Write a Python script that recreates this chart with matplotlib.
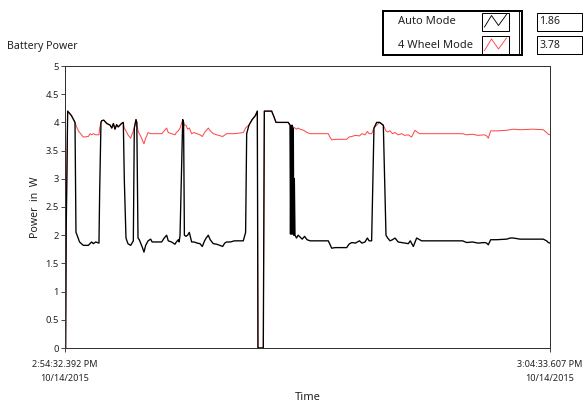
import matplotlib
matplotlib.use('Agg')
from matplotlib import pyplot as plt
from matplotlib.patches import Rectangle

plt.rcParams['font.family'] = ['Noto Sans', 'DejaVu Sans']
plt.rcParams['font.size'] = 9.5

# time in seconds since 2:54:32.392 PM
t_end = 601.215
x_tick_labels = ['2:54:32.392 PM\n10/14/2015', '3:04:33.607 PM\n10/14/2015']
y_ticks = [0, 0.5, 1, 1.5, 2, 2.5, 3, 3.5, 4, 4.5, 5]

# Auto Mode (black)
auto_t = [0.0, 0.8, 1.5, 3.3, 8, 12.4, 13.6, 14.5, 18, 22.7, 28.9, 31, 33, 35.1, 38, 42.1,
          43, 44.6, 45.5, 48, 52, 56, 58, 60, 62.0, 64, 66, 70, 72.3, 73.5, 75.6, 78, 81.4,
          84.7, 85.9, 88.0, 89, 90.5, 92.1, 94, 96, 97.9, 100, 103, 106.2, 108, 119.8, 123,
          126.0, 128, 132, 136.4, 138, 140.5, 141.5, 142.6, 145.9, 147, 148.0, 150.0, 152,
          154.1, 157.0, 160, 164, 167.3, 170.2, 173, 175, 177.6, 180, 183.8, 188, 192, 195.4,
          198, 200.4, 205, 210, 215, 221.0, 223.9, 225.2, 228, 232, 236, 238.4, 239.2, 245.8,
          247.1, 256.2, 259, 261.6, 270, 276.8, 278.9, 279.5, 280.2, 280.9, 281.6, 282.3,
          283.0, 283.6, 284.3, 285.1, 287, 289, 291.3, 294, 297, 300, 304, 307.8, 326.4, 328,
          330.6, 335, 349.2, 352, 355.4, 360, 365, 368, 371.9, 374.8, 377, 380.1, 383.0,
          386.3, 390, 394.6, 397.9, 400, 402.9, 406, 409.1, 413, 417.3, 421, 425.6, 428,
          431.8, 435.9, 442.1, 492.9, 497.9, 505, 512, 520, 522.7, 524.7, 527.7, 535, 547.5,
          552, 555.7, 564.0, 580, 592.9, 597, 599.1, 601.2]
auto_w = [0.0, 0.0, 2.1, 4.2, 4.12, 4.0, 2.05, 2.02, 1.88, 1.82, 1.82, 1.85, 1.88, 1.85, 1.88, 1.86,
          2.8, 4.0, 4.03, 4.04, 3.98, 3.95, 3.9, 3.98, 3.88, 3.96, 3.92, 3.98, 4.0, 3.0, 1.95, 1.85, 1.82,
          1.9, 3.9, 4.05, 4.0, 1.95, 1.92, 1.85, 1.78, 1.7, 1.82, 1.9, 1.93, 1.88, 1.88, 1.95,
          2.0, 1.9, 1.88, 1.84, 1.88, 1.92, 1.88, 2.0, 4.05, 4.0, 2.0, 1.98, 2.0,
          2.05, 1.88, 1.88, 1.86, 1.85, 1.8, 1.9, 1.95, 2.0, 1.92, 1.85, 1.84, 1.82, 1.8,
          1.86, 1.88, 1.88, 1.9, 1.9, 1.9, 2.05, 3.8, 3.95, 4.05, 4.12, 4.2, 0.0, 0.0,
          4.2, 4.2, 4.1, 4.0, 4.0, 4.0, 3.95, 2.02, 3.95, 2.02, 3.95, 2.02,
          3.9, 2.0, 3.0, 2.0, 1.95, 2.0, 1.97, 1.93, 1.98, 1.92, 1.9, 1.9, 1.9, 1.85,
          1.77, 1.78, 1.78, 1.84, 1.87, 1.86, 1.9, 1.86, 1.88, 1.95, 1.9, 1.9, 3.9,
          4.0, 4.0, 3.95, 2.0, 1.95, 1.9, 1.92, 1.95, 1.88, 1.87, 1.86, 1.85, 1.9,
          1.8, 1.95, 1.9, 1.9, 1.87, 1.88, 1.86, 1.87, 1.86, 1.83, 1.92, 1.92, 1.93,
          1.95, 1.95, 1.93, 1.93, 1.93, 1.9, 1.87, 1.86]

# 4 Wheel Mode (red)
wheel_t = [0.0, 0.8, 1.5, 3.3, 8, 12.4, 15, 17, 22.7, 28.9, 31, 33, 35.1, 38, 42.1, 43, 44.6,
           45.5, 48, 52, 56, 58, 60, 62.0, 64, 66, 70, 72.3, 73.5, 75.6, 78, 81.4, 84.7, 85.9,
           88.0, 89, 90.5, 92.1, 94, 97.9, 100, 103, 106.2, 119.8, 123, 126.0, 128, 132, 136.4,
           138, 140.5, 142.6, 145.9, 147, 148.0, 150.0, 152, 154.1, 157.0, 160, 167.3, 170.2,
           173, 177.6, 180, 183.8, 188, 195.4, 200.4, 210, 221.0, 223.9, 225.2, 228, 232, 236,
           238.4, 239.2, 245.8, 247.1, 256.2, 259, 261.6, 270, 276.8, 278.9, 285.1, 287, 289,
           291.3, 294, 297, 300, 304, 307.8, 326.4, 328, 330.6, 335, 349.2, 352, 355.4, 360,
           365, 368, 371.9, 374.8, 377, 380.1, 383, 386.3, 390, 394.6, 397.9, 400, 402.9, 406,
           409.1, 413, 417.3, 421, 425.6, 429.7, 433.8, 439.2, 492.9, 497.9, 505, 512, 520,
           522.7, 524.7, 527.7, 535, 547.5, 555.7, 564, 580, 592.9, 597, 599.1, 601.2]
wheel_w = [0.0, 0.0, 2.1, 4.2, 4.12, 4.0, 3.9, 3.84, 3.74, 3.75, 3.8, 3.78, 3.8, 3.78, 3.78, 3.9, 4.0,
           4.03, 4.04, 3.98, 3.95, 3.9, 3.98, 3.88, 3.96, 3.92, 3.98, 4.0, 3.9, 3.85, 3.78, 3.72, 3.85, 3.9,
           4.05, 4.0, 3.85, 3.8, 3.75, 3.62, 3.72, 3.82, 3.8, 3.8, 3.85, 3.9, 3.82, 3.8, 3.78,
           3.82, 3.85, 3.9, 4.05, 4.0, 3.95, 3.95, 3.88, 3.9, 3.8, 3.82, 3.78, 3.75,
           3.82, 3.9, 3.85, 3.8, 3.78, 3.75, 3.8, 3.8, 3.82, 3.9, 3.92, 3.95, 4.05, 4.12,
           4.2, 0.0, 0.0, 4.2, 4.2, 4.1, 4.0, 4.0, 4.0, 3.95, 3.9, 3.88, 3.9,
           3.88, 3.87, 3.85, 3.82, 3.8, 3.8, 3.8, 3.75, 3.69, 3.7, 3.7, 3.74, 3.75, 3.77,
           3.76, 3.8, 3.78, 3.84, 3.8, 3.8, 3.9, 3.95, 4.0, 3.95, 3.85, 3.83, 3.85, 3.8,
           3.82, 3.78, 3.8, 3.77, 3.78, 3.74, 3.86, 3.8, 3.8, 3.78, 3.79, 3.77, 3.78,
           3.76, 3.72, 3.85, 3.85, 3.86, 3.88, 3.87, 3.88, 3.87, 3.82, 3.79, 3.78]

W, H = 584, 403
fig = plt.figure(figsize=(W / 80, H / 80), dpi=80)
ax = fig.add_axes([65 / W, 55 / H, 485 / W, 282 / H])

ax.plot(wheel_t, wheel_w, color='#ff4545', lw=0.9)
ax.plot(auto_t, auto_w, color='black', lw=1.2)

ax.set_xlim(0, t_end)
ax.set_ylim(0, 5)
ax.set_yticks(y_ticks)
ax.set_yticklabels(['%g' % v for v in y_ticks], fontsize=8.5)
ax.set_xticks([0, t_end])
ax.set_xticklabels(x_tick_labels, fontsize=8.2, linespacing=1.75)
ax.tick_params(length=4, width=0.8, pad=1.5, colors='#333333', labelcolor='#222222')
ax.tick_params(axis='x', pad=7)
for s in ax.spines.values():
    s.set_linewidth(0.9)
    s.set_color('#333333')
ax.set_ylabel('Power  in  W', labelpad=4, color='#222222')
ax.set_xlabel('Time', labelpad=8, color='#222222', fontsize=10)

# overlay in pixel coordinates for the header decorations
ov = fig.add_axes([0, 0, 1, 1])
ov.set_xlim(0, W)
ov.set_ylim(H, 0)
ov.axis('off')
ov.patch.set_visible(False)

ov.text(7, 46.5, 'Battery Power', va='center', ha='left', color='#222222')

# legend box
ov.add_patch(Rectangle((383, 11), 139, 44, fill=False, lw=1.8, ec='black'))
ov.plot([518.5, 518.5], [11, 55], color='black', lw=0.8)
names = ['Auto Mode', '4 Wheel Mode']
colors = ['black', '#ff4545']
last_vals = [auto_w[-1], wheel_w[-1]]
for i in range(2):
    y0 = 12.5 + i * 23.5
    ov.text(398, y0 + 9, names[i], va='center', ha='left', color='#222222', fontsize=10)
    ov.add_patch(Rectangle((482, y0), 27, 18, fill=False, lw=0.9, ec='black'))
    ov.plot([484.5, 491.5, 498.5, 506.5], [y0 + 14.5, y0 + 3, y0 + 13, y0 + 2],
            color=colors[i], lw=0.8)
    ov.add_patch(Rectangle((537, y0), 45, 18, fill=False, lw=0.9, ec='black'))
    ov.text(539.5, y0 + 9.5, '%.2f' % last_vals[i], va='center', ha='left',
            color='#222222', fontsize=9.5)

fig.savefig('out.png', dpi=80)
